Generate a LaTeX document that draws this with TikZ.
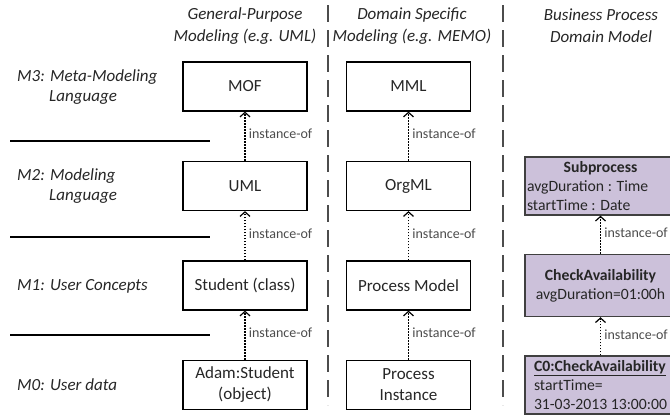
\documentclass[tikz,border=0pt]{standalone}
\usepackage{fontspec}
\setmainfont{Carlito}
\usetikzlibrary{positioning,arrows.meta}

\definecolor{bplilac}{HTML}{CCC1DA}
\definecolor{textgray}{HTML}{262626}

\begin{document}
\begin{tikzpicture}[x=1pt,y=1pt,node distance=99.5pt,
  level box/.style={rectangle,draw=black,line width=1.2pt,minimum width=124pt,minimum height=49pt,align=center,font=\fontsize{17}{21}\selectfont,text=textgray},
  bp box/.style={rectangle,draw=black!75,line width=1.4pt,fill=bplilac,minimum width=151pt,inner ysep=1pt,font=\fontsize{15.7}{19}\selectfont,text=textgray},
  head/.style={align=center,font=\fontsize{17}{22}\selectfont\itshape,text=textgray},
  level/.style={align=left,anchor=west,inner sep=0pt,font=\fontsize{17}{20.5}\selectfont\itshape,text=textgray},
  inst/.style={dash pattern=on 1.5pt off 1.5pt,line width=1.2pt,-{Straight Barb[length=4.5pt,width=10pt]}},
  sep/.style={line width=1.3pt,dash pattern=on 17pt off 8pt,draw=black!70}]
            \clip (0,0) rectangle (670,-416);

            % column headers
            \node[head] (gphead) at (245,-26) {General-Purpose\\Modeling (e.g. UML)};
            \node[head] (dshead) at (412,-26) {Domain Specific\\Modeling (e.g. MEMO)};
            \node[head] (bphead) at (601,-26) {Business Process\\Domain Model};

            % meta levels
            \node[level] (m3) at (17,-87) {M3: Meta-Modeling\\\hspace*{32pt}Language};
            \node[level] (m2) at (17,-186) {M2: Modeling\\\hspace*{32pt}Language};
            \node[level] (m1) at (17,-286) {M1: User Concepts};
            \node[level] (m0) at (17,-385) {M0: User data};

            \draw[line width=1.2pt] (10,-141) -- (210,-141);
            \draw[line width=1.2pt] (10,-237) -- (210,-237);
            \draw[line width=1.2pt] (10,-335) -- (210,-335);

            \draw[sep] (328,-5) -- (328,-405);
            \draw[sep] (503,-5) -- (503,-405);

            % general-purpose column
            \node[level box] (mof) at (245,-86.5) {MOF};
            \node[level box] (uml) [below of=mof] {UML};
            \node[level box] (student) [below of=uml] {Student (class)};
            \node[level box] (adam) [below of=student] {Adam:Student\\(object)};

            % domain specific column
            \node[level box] (mml) at (408.5,-86.5) {MML};
            \node[level box] (orgml) [below of=mml] {OrgML};
            \node[level box] (procmodel) [below of=orgml] {Process Model};
            \node[level box] (procinst) [below of=procmodel] {Process\\Instance};

            % business process column
            \node[bp box,inner xsep=2pt,align=left,minimum height=58pt] (subproc) at (600.5,-186)
              {\makebox[147pt]{\textbf{Subprocess}}\\avgDuration : Time\\startTime : Date};
            \node[bp box,align=center,minimum height=62pt] (check) [below of=subproc]
              {\textbf{CheckAvailability}\\avgDuration=01:00h};
            \node[bp box,align=left,minimum height=58pt] (c0) [below of=check]
              {\underline{\textbf{C0:CheckAvailability}}\\startTime=\\31-03-2013 13:00:00};

          \path[every edge/.append style={inst},every node/.style={font=\fontsize{14}{16}\selectfont,text=black!70,right,pos=0.55}]
            (uml) edge node {instance-of} (mof)
            (student) edge node {instance-of} (uml)
            (adam) edge node {instance-of} (student)
            (orgml) edge node {instance-of} (mml)
            (procmodel) edge node {instance-of} (orgml)
            (procinst) edge node {instance-of} (procmodel)
            (check) edge node {instance-of} (subproc)
            (c0) edge node {instance-of} (check)
            ;
        \end{tikzpicture}
\end{document}
